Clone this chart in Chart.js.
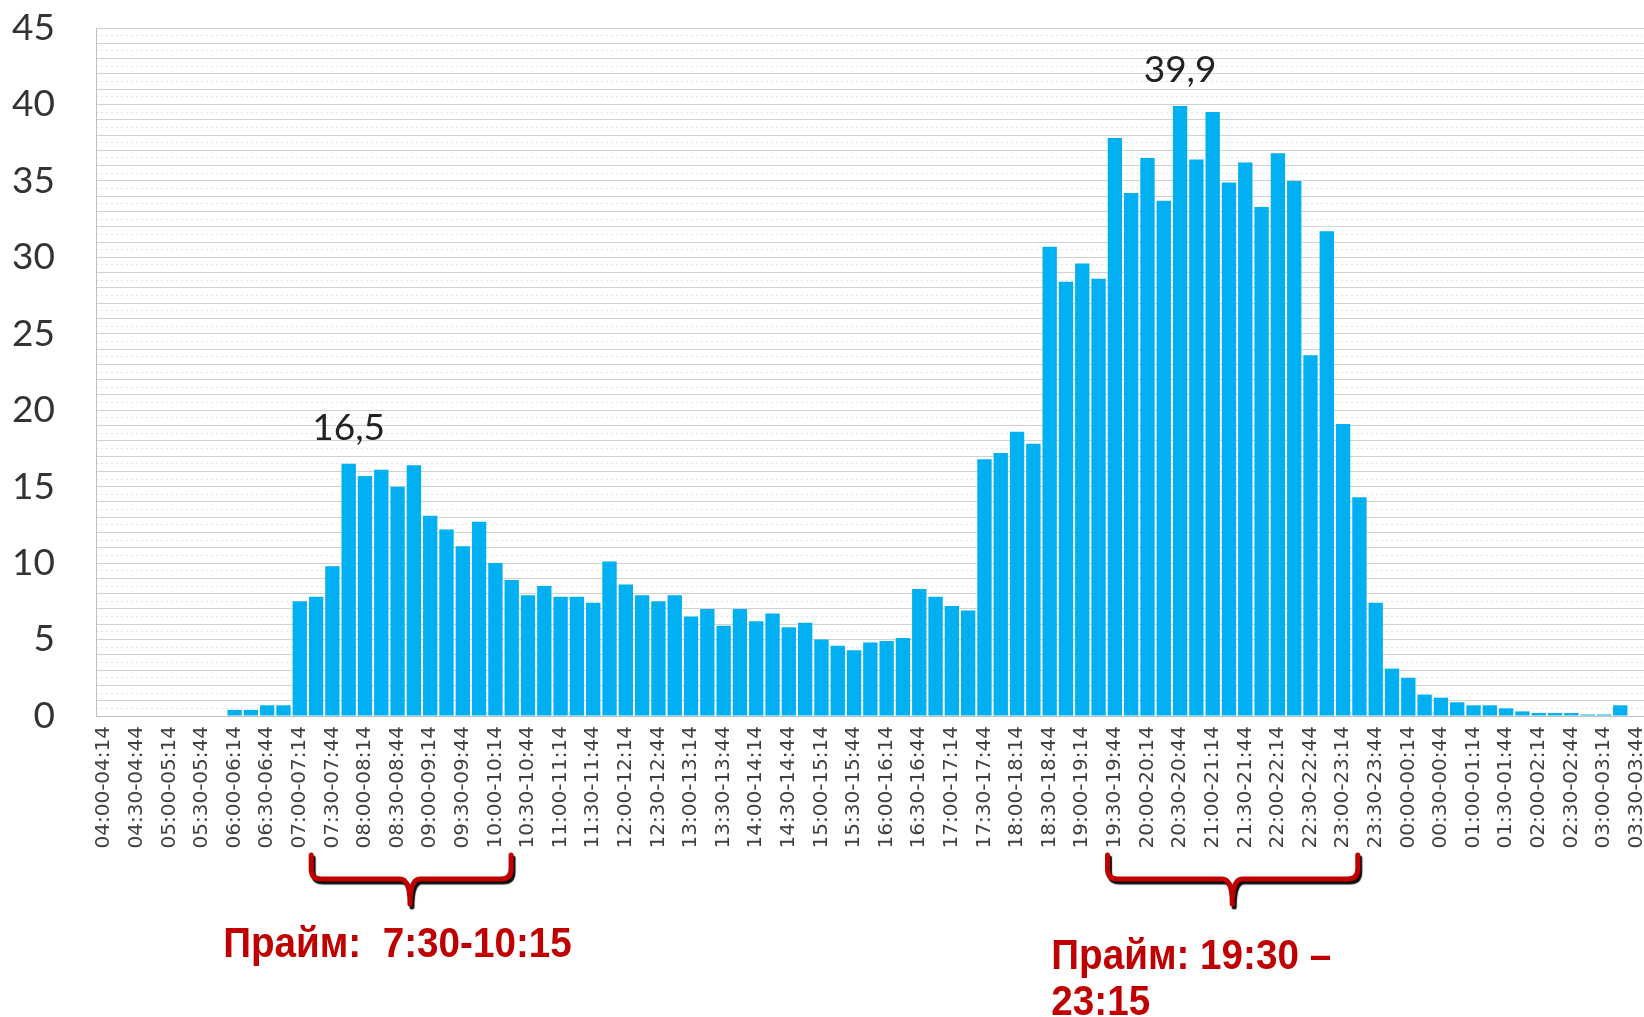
<!DOCTYPE html>
<html lang="ru">
<head>
<meta charset="UTF-8">
<title>Прайм-тайм</title>
<script src="https://cdn.jsdelivr.net/npm/chart.js@4.4.1/dist/chart.umd.min.js"></script>
<style>
  html, body { margin: 0; padding: 0; background: #fff; overflow: hidden; }
  /* the original picture is cut on the right, so the chart is a bit wider than the window */
  .wrap { position: relative; width: 1670px; height: 1017px; }
</style>
</head>
<body>
<div class="wrap"><canvas id="chart"></canvas></div>
<script>
// 15-minute slots, 04:00 .. 03:59
const timeSlots = [
  "04:00-04:14","04:15-04:29","04:30-04:44","04:45-04:59",
  "05:00-05:14","05:15-05:29","05:30-05:44","05:45-05:59",
  "06:00-06:14","06:15-06:29","06:30-06:44","06:45-06:59",
  "07:00-07:14","07:15-07:29","07:30-07:44","07:45-07:59",
  "08:00-08:14","08:15-08:29","08:30-08:44","08:45-08:59",
  "09:00-09:14","09:15-09:29","09:30-09:44","09:45-09:59",
  "10:00-10:14","10:15-10:29","10:30-10:44","10:45-10:59",
  "11:00-11:14","11:15-11:29","11:30-11:44","11:45-11:59",
  "12:00-12:14","12:15-12:29","12:30-12:44","12:45-12:59",
  "13:00-13:14","13:15-13:29","13:30-13:44","13:45-13:59",
  "14:00-14:14","14:15-14:29","14:30-14:44","14:45-14:59",
  "15:00-15:14","15:15-15:29","15:30-15:44","15:45-15:59",
  "16:00-16:14","16:15-16:29","16:30-16:44","16:45-16:59",
  "17:00-17:14","17:15-17:29","17:30-17:44","17:45-17:59",
  "18:00-18:14","18:15-18:29","18:30-18:44","18:45-18:59",
  "19:00-19:14","19:15-19:29","19:30-19:44","19:45-19:59",
  "20:00-20:14","20:15-20:29","20:30-20:44","20:45-20:59",
  "21:00-21:14","21:15-21:29","21:30-21:44","21:45-21:59",
  "22:00-22:14","22:15-22:29","22:30-22:44","22:45-22:59",
  "23:00-23:14","23:15-23:29","23:30-23:44","23:45-23:59",
  "00:00-00:14","00:15-00:29","00:30-00:44","00:45-00:59",
  "01:00-01:14","01:15-01:29","01:30-01:44","01:45-01:59",
  "02:00-02:14","02:15-02:29","02:30-02:44","02:45-02:59",
  "03:00-03:14","03:15-03:29","03:30-03:44","03:45-03:59"
];

const shareValues = [
  0, 0, 0, 0,          // 04
  0, 0, 0, 0,          // 05
  0.4, 0.4, 0.7, 0.7,  // 06
  7.5, 7.8, 9.8, 16.5, // 07
  15.7, 16.1, 15.0, 16.4,
  13.1, 12.2, 11.1, 12.7,
  10.0, 8.9, 7.9, 8.5, // 10
  7.8, 7.8, 7.4, 10.1,
  8.6, 7.9, 7.5, 7.9,
  6.5, 7.0, 5.9, 7.0,  // 13
  6.2, 6.7, 5.8, 6.1,
  5.0, 4.6, 4.3, 4.8,
  4.9, 5.1, 8.3, 7.8,  // 16
  7.2, 6.9, 16.8, 17.2,
  18.6, 17.8, 30.7, 28.4,
  29.6, 28.6, 37.8, 34.2, // 19
  36.5, 33.7, 39.9, 36.4,
  39.5, 34.9, 36.2, 33.3,
  36.8, 35.0, 23.6, 31.7, // 22
  19.1, 14.3, 7.4, 3.1,
  2.5, 1.4, 1.2, 0.9,  // 00
  0.7, 0.7, 0.5, 0.3,
  0.2, 0.2, 0.2, 0.1,
  0.1, 0.7, 0, 0       // 03
];

const yMax = 45;
const yLabelStep = 5;
const peakIdx = [15, 66];

// prime-time braces, in category units
const primeRanges = [
  { from: 12.7, to: 24.96, mid: 18.76, textAt: 7.3, lines: ["Прайм:  7:30-10:15"], baselines: [957] },
  { from: 61.55, to: 76.9, mid: 69.2, textAt: 58.1, lines: ["Прайм: 19:30 –", "23:15"], baselines: [969, 1015] }
];

const fmt = v => v.toFixed(1).replace('.', ',');

const peakLabels = {
  id: 'peakLabels',
  afterDatasetsDraw(chart) {
    const c = chart.ctx;
    const meta = chart.getDatasetMeta(0);
    c.save();
    c.font = '37px Lato';
    c.fillStyle = '#222';
    c.textAlign = 'center';
    c.textBaseline = 'middle';
    peakIdx.forEach(i => {
      const bar = meta.data[i];
      c.fillText(fmt(shareValues[i]), bar.x, bar.y - 36);
    });
    c.restore();
  }
};

const primeBraces = {
  id: 'primeBraces',
  afterDraw(chart) {
    const x = chart.scales.x;
    const c = chart.ctx;
    const top = 855, h = 879, tip = 904, r = 10;
    primeRanges.forEach(p => {
      const x1 = x.getPixelForValue(p.from);
      const x2 = x.getPixelForValue(p.to);
      const cx = x.getPixelForValue(p.mid);
      c.save();
      c.strokeStyle = '#c00000';
      c.lineWidth = 5;
      c.lineCap = 'round';
      c.lineJoin = 'round';
      c.shadowColor = 'rgba(0,0,0,0.95)';
      c.shadowOffsetX = 2;
      c.shadowOffsetY = 3;
      c.shadowBlur = 1;
      c.beginPath();
      c.moveTo(x1, top);
      c.lineTo(x1, h - r);
      c.quadraticCurveTo(x1, h, x1 + r, h);
      c.lineTo(cx - r, h);
      c.quadraticCurveTo(cx, h, cx, tip);
      c.moveTo(x2, top);
      c.lineTo(x2, h - r);
      c.quadraticCurveTo(x2, h, x2 - r, h);
      c.lineTo(cx + r, h);
      c.quadraticCurveTo(cx, h, cx, tip);
      c.stroke();
      c.restore();

      const tx = x.getPixelForValue(p.textAt);
      c.save();
      c.font = 'bold 42px "Liberation Sans", Arial, sans-serif';
      c.fillStyle = '#c00000';
      c.textAlign = 'left';
      c.textBaseline = 'alphabetic';
      p.lines.forEach((line, k) => {
        c.save();
        c.translate(tx, p.baselines[k]);
        c.scale(0.92, 1);
        c.fillText(line, 0, 0);
        c.restore();
      });
      c.restore();
    });
  }
};

new Chart(document.getElementById('chart'), {
  type: 'bar',
  data: {
    labels: timeSlots,
    datasets: [{
      data: shareValues,
      backgroundColor: '#00b0f0',
      borderWidth: 0,
      barPercentage: 0.88,
      categoryPercentage: 1.0
    }]
  },
  options: {
    responsive: true,
    maintainAspectRatio: false,
    animation: false,
    layout: { padding: { top: 28, right: 9, bottom: 0, left: 0 } },
    plugins: { legend: { display: false }, tooltip: { enabled: false } },
    scales: {
      x: {
        afterFit(s) { s.height = 301; s.paddingTop = 0; s.paddingLeft = 0; s.paddingRight = 0; },
        grid: { display: false, drawTicks: false },
        border: { color: '#bfbfbf', width: 1 },
        ticks: {
          autoSkip: false,
          maxRotation: 90,
          minRotation: 90,
          padding: 10,
          color: '#404040',
          font: { family: 'DejaVu Sans', size: 20 },
          callback(v, i) { return i % 2 === 0 ? this.getLabelForValue(v) : ''; }
        }
      },
      y: {
        min: 0,
        max: yMax,
        afterFit(s) { s.width = 96; s.paddingTop = 0; s.paddingBottom = 0; },
        grid: { color: '#d2d2d2', lineWidth: 1, drawTicks: false },
        border: { color: '#bfbfbf', width: 1 },
        ticks: {
          stepSize: 1,
          maxTicksLimit: 200,
          autoSkip: false,
          padding: 41,
          color: '#333',
          font: { family: 'Lato', size: 37 },
          callback: v => (v % yLabelStep === 0 ? v : '')
        }
      },
      y2: {
        position: 'left',
        min: 0,
        max: yMax,
        afterFit(s) { s.width = 0; s.paddingTop = 0; s.paddingBottom = 0; },
        grid: {
          drawTicks: false,
          color: ctx => (ctx.tick && ctx.tick.value % 1 !== 0) ? '#e4e4e4' : 'rgba(0,0,0,0)'
        },
        border: { display: false, dash: [2, 3] },
        ticks: { display: false, stepSize: 0.5, maxTicksLimit: 200, autoSkip: false }
      }
    }
  },
  plugins: [peakLabels, primeBraces]
});
</script>
</body>
</html>
